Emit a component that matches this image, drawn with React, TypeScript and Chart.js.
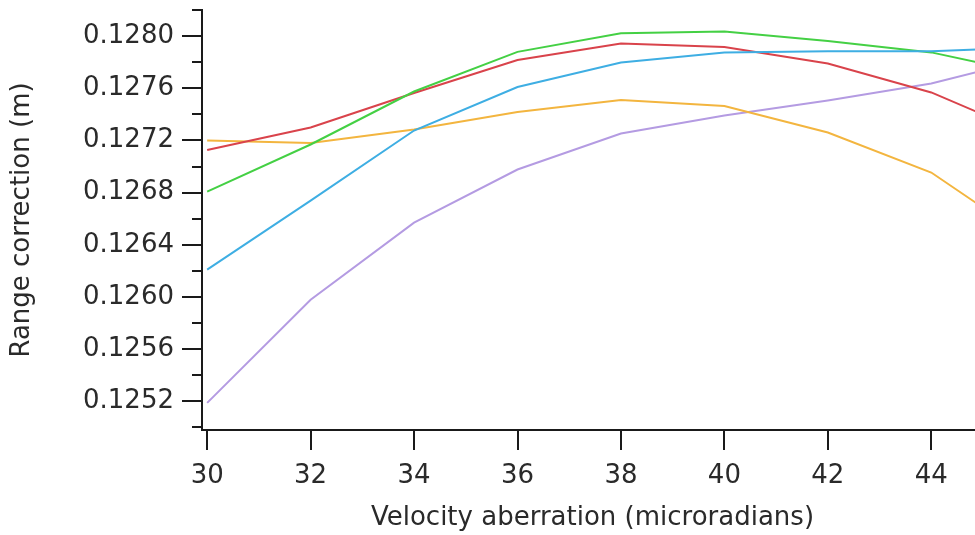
import { useEffect, useRef } from "react";
import { Chart, registerables } from "chart.js";

Chart.register(...registerables);

// Velocity aberration (microradians) at which each curve was evaluated
const aberration = [30, 32, 34, 36, 38, 40, 42, 44, 46];

// Range correction (m) for each curve
const redCurve = [0.127126, 0.127299, 0.127564, 0.127817, 0.127944, 0.127917, 0.12779, 0.127568, 0.12723];
const greenCurve = [0.126808, 0.127169, 0.127575, 0.127879, 0.128021, 0.128036, 0.127963, 0.127875, 0.127706];
const blueCurve = [0.126209, 0.126739, 0.127276, 0.12761, 0.127798, 0.127875, 0.127883, 0.127883, 0.127917];
const orangeCurve = [0.127199, 0.12718, 0.127284, 0.127418, 0.12751, 0.127464, 0.127261, 0.126954, 0.126416];
const purpleCurve = [0.125188, 0.125979, 0.12657, 0.126977, 0.127253, 0.127391, 0.127506, 0.127637, 0.127836];

// Axis ticks
const xTicks = [30, 32, 34, 36, 38, 40, 42, 44];
const yTicks = [0.1252, 0.1256, 0.126, 0.1264, 0.1268, 0.1272, 0.1276, 0.128];
const yMinorTicks = [0.125, 0.1254, 0.1258, 0.1262, 0.1266, 0.127, 0.1274, 0.1278, 0.1282];

const FONT = "'DejaVu Sans', Verdana, sans-serif";
const INK = "#1a1a1a";
const TEXT = "#2a2a2a";

const toPoints = (ys: number[]) => aberration.map((x, i) => ({ x, y: ys[i] }));

// Short unlabeled ticks between the labeled ones on the range axis
const minorTickPlugin = {
  id: "minorTicks",
  afterDraw(chart: any) {
    const y = chart.scales.y;
    const ctx = chart.ctx as CanvasRenderingContext2D;
    ctx.save();
    ctx.strokeStyle = INK;
    ctx.lineWidth = 2;
    for (const v of yMinorTicks) {
      const py = Math.round(y.getPixelForValue(v));
      ctx.beginPath();
      ctx.moveTo(y.right - 10, py);
      ctx.lineTo(y.right, py);
      ctx.stroke();
    }
    ctx.restore();
  },
};

export default function App() {
  const canvasRef = useRef<HTMLCanvasElement | null>(null);

  useEffect(() => {
    const canvas = canvasRef.current;
    if (!canvas) return;

    const series = [
      { data: blueCurve, color: "#3eaee3" },
      { data: greenCurve, color: "#44d044" },
      { data: redCurve, color: "#d9434b" },
      { data: orangeCurve, color: "#f3b53f" },
      { data: purpleCurve, color: "#b49be2" },
    ];

    const chart = new Chart(canvas, {
      type: "line",
      data: {
        datasets: series.map((s) => ({
          data: toPoints(s.data),
          borderColor: s.color,
          backgroundColor: s.color,
          borderWidth: 2,
          pointRadius: 0,
          tension: 0,
          fill: false,
        })),
      },
      options: {
        responsive: false,
        animation: false,
        devicePixelRatio: 1,
        layout: { padding: { top: 10, right: 12, left: 0, bottom: 0 } },
        plugins: {
          legend: { display: false },
          tooltip: { enabled: false },
        },
        scales: {
          x: {
            type: "linear",
            min: 29.9,
            max: 45,
            afterBuildTicks: (scale: any) => {
              scale.ticks = xTicks.map((value) => ({ value }));
            },
            afterFit: (scale: any) => {
              scale.height = 105;
              scale.paddingLeft = 0;
              scale.paddingRight = 0;
            },
            grid: { drawOnChartArea: false, tickLength: 20, color: INK, lineWidth: 2 },
            border: { color: INK, width: 2 },
            ticks: {
              font: { family: FONT, size: 26 },
              color: TEXT,
              padding: 11,
              maxRotation: 0,
              autoSkip: false,
              callback: (v: any) => String(v),
            },
            title: {
              display: true,
              text: "Velocity aberration (microradians)",
              font: { family: FONT, size: 26 },
              color: TEXT,
              padding: { top: 0, bottom: 1 },
            },
          },
          y: {
            type: "linear",
            min: 0.12498,
            max: 0.1282,
            afterBuildTicks: (scale: any) => {
              scale.ticks = yTicks.map((value) => ({ value }));
            },
            afterFit: (scale: any) => {
              scale.width = 202;
              scale.paddingTop = 0;
              scale.paddingBottom = 0;
            },
            grid: { drawOnChartArea: false, tickLength: 20, color: INK, lineWidth: 2 },
            border: { color: INK, width: 2 },
            ticks: {
              font: { family: FONT, size: 26 },
              color: TEXT,
              padding: 8,
              autoSkip: false,
              callback: (v: any) => Number(v).toFixed(4),
            },
            title: {
              display: true,
              text: "Range correction (m)",
              font: { family: FONT, size: 26 },
              color: TEXT,
              padding: { top: 7, bottom: 0 },
            },
          },
        },
      },
      plugins: [minorTickPlugin],
    });

    return () => chart.destroy();
  }, []);

  return (
    <div
      style={{
        position: "fixed",
        left: 0,
        top: 0,
        width: 975,
        height: 535,
        overflow: "hidden",
        background: "#ffffff",
      }}
    >
      <canvas ref={canvasRef} width={995} height={535} style={{ display: "block" }} />
    </div>
  );
}
